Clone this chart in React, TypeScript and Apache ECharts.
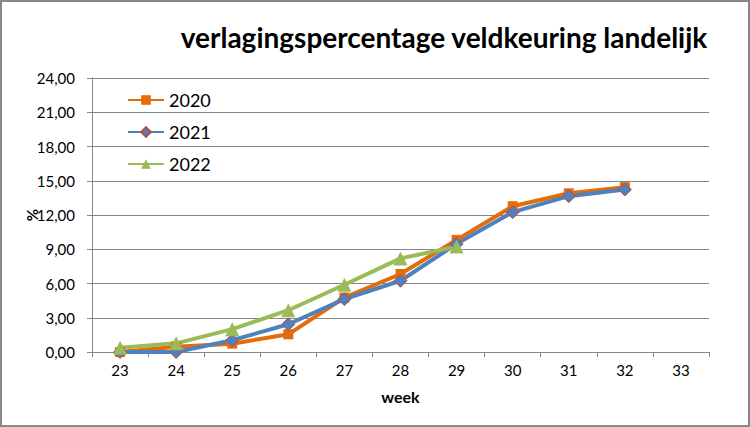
import React, { useEffect, useRef } from "react";
import * as echarts from "echarts";

const weeks = ["23", "24", "25", "26", "27", "28", "29", "30", "31", "32", "33"];
const s2020 = [0.0, 0.47, 0.73, 1.55, 4.77, 6.83, 9.82, 12.77, 13.9, 14.44];
const s2021 = [0.0, 0.0, 1.03, 2.43, 4.63, 6.24, 9.47, 12.25, 13.65, 14.24];
const s2022 = [0.38, 0.76, 2.0, 3.66, 5.89, 8.2, 9.23];
const seriesNames = ["2020", "2021", "2022"];
const titleText = "verlagingspercentage veldkeuring landelijk";

const FONT = "Lato, 'Open Sans', sans-serif";

export default function App() {
  const ref = useRef<HTMLDivElement>(null);
  useEffect(() => {
    if (!ref.current) return;
    const chart = echarts.init(ref.current, undefined, { renderer: "svg" });
    chart.setOption({
      animation: false,
      backgroundColor: "#ffffff",
      textStyle: { fontFamily: FONT },
      title: {
        text: titleText,
        left: 439,
        top: 18,
        textAlign: "center",
        textStyle: { fontFamily: FONT, fontWeight: "bold", fontSize: 28, color: "#000" },
      },
      graphic: [
        {
          type: "rect",
          shape: { x: 1, y: 1, width: 748, height: 425 },
          style: { fill: "none", stroke: "#888888", lineWidth: 2 },
          silent: true,
        },
      ],
      legend: {
        orient: "vertical",
        left: 122,
        top: 86,
        itemWidth: 36,
        itemHeight: 12,
        itemGap: 14,
        data: seriesNames,
        textStyle: { fontFamily: FONT, fontSize: 18, color: "#000" },
      },
      grid: { left: 92, right: 41, top: 78, bottom: 75, containLabel: false },
      xAxis: {
        type: "category",
        data: weeks,
        boundaryGap: true,
        name: "week",
        nameLocation: "middle",
        nameGap: 36,
        nameTextStyle: { fontFamily: FONT, fontWeight: "bold", fontSize: 16, color: "#000" },
        axisLine: { lineStyle: { color: "#868686", width: 1 } },
        axisTick: { show: true, length: 5, lineStyle: { color: "#868686" } },
        axisLabel: { fontFamily: FONT, fontSize: 15, color: "#000", margin: 10 },
      },
      yAxis: {
        type: "value",
        min: 0,
        max: 24,
        interval: 3,
        name: "%",
        nameLocation: "middle",
        nameGap: 53,
        nameRotate: 90,
        nameMoveOverlap: false,
        nameTextStyle: { fontFamily: FONT, fontWeight: "bold", fontSize: 15, color: "#000" },
        axisLine: { show: true, lineStyle: { color: "#868686", width: 1 } },
        axisTick: { show: true, length: 5, lineStyle: { color: "#868686" } },
        splitLine: { show: true, lineStyle: { color: "#868686", width: 1 } },
        axisLabel: {
          fontFamily: FONT,
          fontSize: 15,
          color: "#000",
          margin: 17,
          formatter: (v: number) => v.toFixed(2).replace(".", ","),
        },
      },
      series: [
        {
          name: "2020",
          type: "line",
          data: s2020,
          symbol: "rect",
          symbolSize: 10,
          lineStyle: { color: "#E46C0A", width: 4 },
          itemStyle: { color: "#E46C0A" },
        },
        {
          name: "2021",
          type: "line",
          data: s2021,
          symbol: "diamond",
          symbolSize: 13,
          lineStyle: { color: "#4F81BD", width: 4 },
          itemStyle: { color: "#4F81BD", borderColor: "#B94A48", borderWidth: 1 },
        },
        {
          name: "2022",
          type: "line",
          data: s2022,
          symbol: "triangle",
          symbolSize: 14,
          lineStyle: { color: "#9BBB59", width: 4 },
          itemStyle: { color: "#9BBB59" },
        },
      ],
    });
    return () => chart.dispose();
  }, []);
  return (
    <div
      ref={ref}
      style={{ position: "fixed", left: 0, top: 0, width: 750, height: 427 }}
    />
  );
}
